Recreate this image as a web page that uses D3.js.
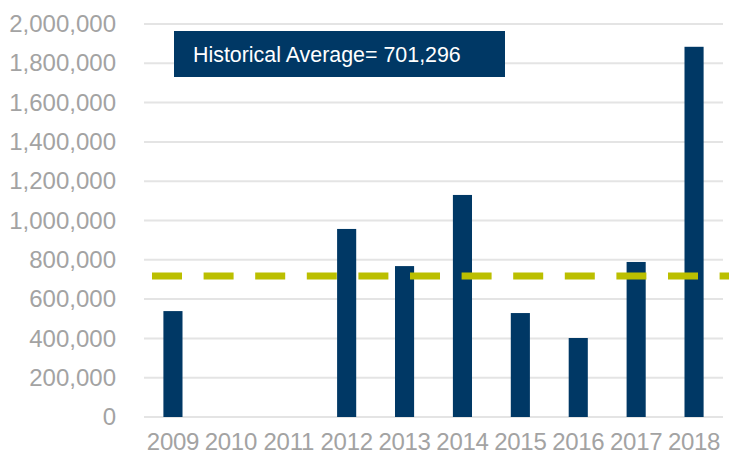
<!DOCTYPE html>
<html>
<head>
<meta charset="utf-8">
<script src="https://cdn.jsdelivr.net/npm/d3@7"></script>
<style>
  body { margin: 0; background: #fff; }
  svg { display: block; font-family: "Liberation Sans", Arial, sans-serif; }
</style>
</head>
<body>
<div id="chart"></div>
<script>
const years = ['2009', '2010', '2011', '2012', '2013', '2014', '2015', '2016', '2017', '2018'];
const values = [539000, 0, 0, 957000, 768000, 1130000, 529000, 402000, 789000, 1884000];
const yTicks = [0, 200000, 400000, 600000, 800000, 1000000, 1200000, 1400000, 1600000, 1800000, 2000000];
const averageLine = 718000;
const averageLabel = 'Historical Average= 701,296';

const width = 738;
const height = 456;
const margin = { top: 24, right: 15, bottom: 39, left: 144 };

const svg = d3.select('#chart')
  .append('svg')
  .attr('width', width)
  .attr('height', height);

const x = d3.scaleBand()
  .domain(years)
  .range([margin.left, width - margin.right])
  .paddingInner(0.67)
  .paddingOuter(0.335);

const y = d3.scaleLinear()
  .domain([0, 2000000])
  .range([height - margin.bottom, margin.top]);

// gridlines
svg.append('g')
  .selectAll('line')
  .data(yTicks)
  .join('line')
    .attr('x1', margin.left)
    .attr('x2', width - margin.right)
    .attr('y1', d => y(d))
    .attr('y2', d => y(d))
    .attr('stroke', '#e4e4e4')
    .attr('stroke-width', 2);

// y axis labels
const yAxis = svg.append('g')
  .attr('transform', `translate(${margin.left}, 0)`)
  .call(d3.axisLeft(y).tickValues(yTicks).tickFormat(d3.format(',')).tickSize(0).tickPadding(28));
yAxis.select('.domain').remove();
yAxis.selectAll('text')
  .attr('fill', '#a3a3a3')
  .attr('font-size', '24px')
  .attr('font-family', '"Liberation Sans", Arial, sans-serif');

// bars
svg.append('g')
  .attr('fill', '#003865')
  .selectAll('rect')
  .data(values)
  .join('rect')
    .attr('x', (d, i) => x(years[i]))
    .attr('y', d => y(d))
    .attr('width', x.bandwidth())
    .attr('height', d => y(0) - y(d));

// x axis labels
const xAxis = svg.append('g')
  .attr('transform', `translate(0, ${height - margin.bottom})`)
  .call(d3.axisBottom(x).tickSize(0).tickPadding(16));
xAxis.select('.domain').remove();
xAxis.selectAll('text')
  .attr('fill', '#a3a3a3')
  .attr('font-size', '24px')
  .attr('font-family', '"Liberation Sans", Arial, sans-serif')
  .attr('dy', '0.72em')
  .attr('letter-spacing', '-0.3px');

// average line
svg.append('line')
  .attr('x1', margin.left + 8)
  .attr('x2', width - 9)
  .attr('y1', y(averageLine))
  .attr('y2', y(averageLine))
  .attr('stroke', '#bbbf00')
  .attr('stroke-width', 7)
  .attr('stroke-dasharray', '30,21.6');

// label box
svg.append('rect')
  .attr('x', 174)
  .attr('y', 31)
  .attr('width', 331)
  .attr('height', 46)
  .attr('fill', '#003865');

svg.append('text')
  .attr('x', 193)
  .attr('y', 62)
  .attr('fill', '#fff')
  .attr('font-size', '21.4px')
  .text(averageLabel);
</script>
</body>
</html>
